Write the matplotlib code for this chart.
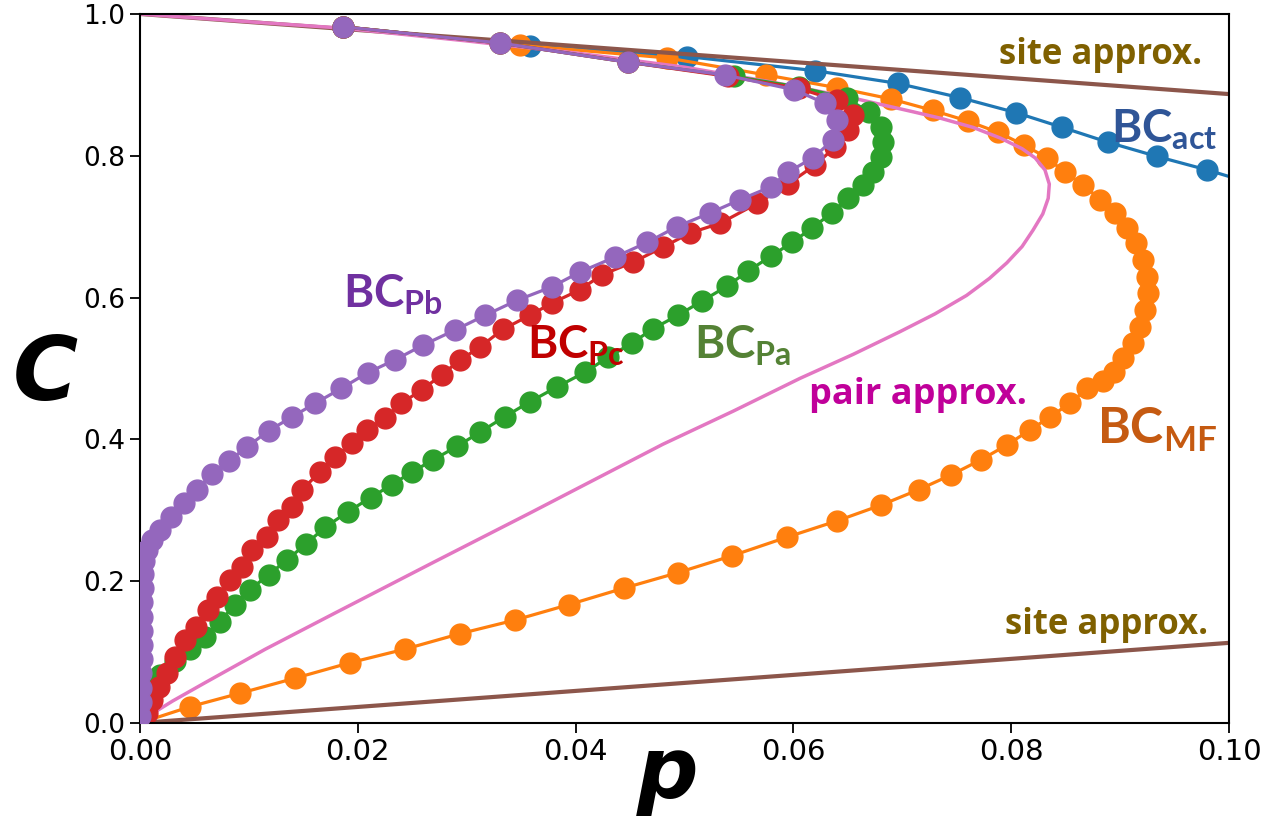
import matplotlib
matplotlib.use("Agg")
import matplotlib.pyplot as plt

# ---- data ----
p_act = [0.0186, 0.0358, 0.0502, 0.0620, 0.0696, 0.0753, 0.0804, 0.0847, 0.0889, 0.0934, 0.0980, 0.1030]
C_act = [0.982, 0.955, 0.940, 0.920, 0.902, 0.882, 0.861, 0.840, 0.819, 0.799, 0.780, 0.757]

p_mf = [0.0186, 0.0349, 0.0484, 0.0575, 0.0640, 0.0690, 0.0728, 0.0760, 0.0788, 0.0812,
        0.0833, 0.0849, 0.0866, 0.0882, 0.0895, 0.0906, 0.0915, 0.0921, 0.0925, 0.0926,
        0.0923, 0.0918, 0.0912, 0.0903, 0.0894, 0.0884, 0.0870, 0.0854, 0.0836, 0.0817,
        0.0796, 0.0772, 0.0745, 0.0715, 0.0680, 0.0640, 0.0594, 0.0544, 0.0494, 0.0444,
        0.0394, 0.0344, 0.0294, 0.0243, 0.0193, 0.0142, 0.0092, 0.0046, 0.0]
C_mf = [0.982, 0.956, 0.938, 0.914, 0.896, 0.880, 0.864, 0.849, 0.833, 0.815,
        0.797, 0.777, 0.759, 0.738, 0.719, 0.698, 0.677, 0.653, 0.629, 0.606,
        0.583, 0.559, 0.536, 0.515, 0.495, 0.483, 0.472, 0.451, 0.432, 0.413,
        0.392, 0.371, 0.350, 0.329, 0.307, 0.285, 0.262, 0.236, 0.212, 0.190,
        0.167, 0.145, 0.126, 0.104, 0.085, 0.063, 0.042, 0.023, 0.0]

p_pa = [0.0186, 0.0331, 0.0448, 0.0545, 0.0605, 0.0649, 0.0669, 0.0680, 0.0682, 0.0680,
        0.0673, 0.0664, 0.0650, 0.0635, 0.0617, 0.0599, 0.0579, 0.0558, 0.0539, 0.0516,
        0.0494, 0.0471, 0.0452, 0.0430, 0.0409, 0.0383, 0.0358, 0.0335, 0.0312, 0.0291,
        0.0269, 0.0250, 0.0231, 0.0212, 0.0191, 0.0170, 0.0152, 0.0135, 0.0118, 0.0101,
        0.0087, 0.0073, 0.0060, 0.0046, 0.0032, 0.0018, 0.0010, 0.0004, 0.0]
C_pa = [0.982, 0.959, 0.932, 0.912, 0.897, 0.881, 0.862, 0.841, 0.820, 0.798,
        0.777, 0.759, 0.740, 0.719, 0.698, 0.678, 0.658, 0.637, 0.616, 0.595,
        0.575, 0.556, 0.536, 0.516, 0.495, 0.474, 0.453, 0.432, 0.410, 0.390,
        0.371, 0.354, 0.336, 0.318, 0.298, 0.276, 0.252, 0.230, 0.209, 0.188,
        0.166, 0.143, 0.121, 0.104, 0.088, 0.068, 0.049, 0.028, 0.0]

p_pc = [0.0186, 0.0331, 0.0448, 0.0540, 0.0605, 0.0640, 0.0655, 0.0650, 0.0638, 0.0620,
        0.0595, 0.0567, 0.0533, 0.0505, 0.0480, 0.0453, 0.0424, 0.0404, 0.0378, 0.0358,
        0.0333, 0.0312, 0.0294, 0.0277, 0.0259, 0.0240, 0.0225, 0.0208, 0.0195, 0.0179,
        0.0165, 0.0149, 0.0140, 0.0127, 0.0117, 0.0103, 0.0094, 0.0083, 0.0071, 0.0062,
        0.0051, 0.0041, 0.0032, 0.0025, 0.0017, 0.0011, 0.0006, 0.0]
C_pc = [0.982, 0.959, 0.932, 0.912, 0.895, 0.878, 0.858, 0.836, 0.812, 0.787,
        0.760, 0.733, 0.705, 0.691, 0.671, 0.650, 0.632, 0.611, 0.592, 0.575,
        0.555, 0.530, 0.512, 0.491, 0.470, 0.451, 0.430, 0.413, 0.395, 0.375,
        0.354, 0.329, 0.305, 0.286, 0.262, 0.244, 0.220, 0.202, 0.178, 0.159,
        0.135, 0.117, 0.093, 0.070, 0.051, 0.032, 0.014, 0.0]

p_pb = [0.0186, 0.0331, 0.0448, 0.0537, 0.0601, 0.0629, 0.0640, 0.0636, 0.0618, 0.0595,
        0.0579, 0.0551, 0.0523, 0.0493, 0.0466, 0.0436, 0.0404, 0.0378, 0.0346, 0.0317,
        0.0289, 0.0260, 0.0234, 0.0209, 0.0185, 0.0161, 0.0140, 0.0118, 0.0098, 0.0082,
        0.0066, 0.0052, 0.0040, 0.0028, 0.0018, 0.0011, 0.0006, 0.0004, 0.0003, 0.0003,
        0.0002, 0.0002, 0.0002, 0.0002, 0.0002, 0.0001, 0.0001, 0.0001, 0.0]
C_pb = [0.982, 0.959, 0.932, 0.914, 0.893, 0.874, 0.850, 0.822, 0.797, 0.777,
        0.756, 0.738, 0.719, 0.700, 0.678, 0.657, 0.636, 0.615, 0.596, 0.575,
        0.554, 0.533, 0.512, 0.494, 0.472, 0.451, 0.432, 0.412, 0.389, 0.370,
        0.351, 0.329, 0.310, 0.291, 0.272, 0.258, 0.244, 0.228, 0.210, 0.190,
        0.170, 0.150, 0.130, 0.110, 0.090, 0.070, 0.050, 0.030, 0.010]

# pair approximation, upper branch from (0, 1) round the nose back to the origin
p_pair = [0.0, 0.0100, 0.0186, 0.0300, 0.0400, 0.0500, 0.0580, 0.0650, 0.0710, 0.0735,
          0.0765, 0.0790, 0.0810, 0.0822, 0.0831, 0.0835, 0.0834, 0.0829, 0.0820, 0.0810,
          0.0796, 0.0780, 0.0759, 0.0730, 0.0698, 0.0655, 0.0606, 0.0545, 0.0480, 0.0358,
          0.0270, 0.0179, 0.0115, 0.0060, 0.0030, 0.0010, 0.0]
C_pair = [1.0, 0.989, 0.980, 0.962, 0.945, 0.925, 0.904, 0.883, 0.862, 0.853,
          0.840, 0.825, 0.810, 0.797, 0.780, 0.760, 0.740, 0.718, 0.695, 0.672,
          0.649, 0.627, 0.603, 0.577, 0.552, 0.520, 0.486, 0.440, 0.393, 0.296,
          0.227, 0.155, 0.104, 0.057, 0.031, 0.012, 0.0]

p_site = [0.0, 0.1]
C_site_hi = [1.0, 0.887]
C_site_lo = [0.0, 0.113]

xticks = [0.0, 0.02, 0.04, 0.06, 0.08, 0.10]
yticks = [0.0, 0.2, 0.4, 0.6, 0.8, 1.0]

plt.rcParams['mathtext.fontset'] = 'custom'
plt.rcParams['mathtext.rm'] = 'Lato:bold'
plt.rcParams['mathtext.bf'] = 'Lato:bold'

fig = plt.figure(figsize=(12.81, 8.17), dpi=100)
ax = fig.add_axes([0.1093, 0.1151, 0.8501, 0.8678])

ms = 15
lw = 2.3
ax.plot(p_act, C_act, 'o-', color='#1f77b4', ms=ms, lw=lw, zorder=2.0)
ax.plot(p_mf, C_mf, 'o-', color='#ff7f0e', ms=ms, lw=lw, zorder=2.1)
ax.plot(p_site, C_site_hi, '-', color='#8c564b', lw=3, zorder=2.2)
ax.plot(p_site, C_site_lo, '-', color='#8c564b', lw=3, zorder=2.2)
ax.plot(p_pair, C_pair, '-', color='#e377c2', lw=2.5, zorder=2.3)
ax.plot(p_pa, C_pa, 'o-', color='#2ca02c', ms=ms, lw=lw, zorder=2.4)
ax.plot(p_pc, C_pc, 'o-', color='#d62728', ms=ms, lw=lw, zorder=2.5)
ax.plot(p_pb, C_pb, 'o-', color='#9467bd', ms=ms, lw=lw, zorder=2.6)

ax.set_xlim(0, 0.1)
ax.set_ylim(0, 1.0)
ax.set_xticks(xticks)
ax.set_xticklabels(['%.2f' % t for t in xticks], fontsize=21)
ax.set_yticks(yticks)
ax.set_yticklabels(['%.1f' % t for t in yticks], fontsize=19)
ax.tick_params(length=7, width=1.3)
for s in ax.spines.values():
    s.set_linewidth(1.5)

# axis titles
fig.text(45 / 1281, 1 - 375 / 817, 'C', fontsize=64, fontweight='bold', fontstyle='italic',
         ha='center', va='center')
fig.text(668 / 1281, 1 - 775 / 817, 'p', fontsize=62, fontweight='bold', fontstyle='italic',
         ha='center', va='center')

# curve labels
lab = dict(family='Lato', fontweight='bold', ha='center', va='center')
txt = dict(family='Open Sans', fontweight='bold', ha='center', va='center')
ax.text(0.0882, 0.942, 'site approx.', color='#7F6000', fontsize=25, **txt)
ax.text(0.0888, 0.138, 'site approx.', color='#7F6000', fontsize=25, **txt)
ax.text(0.0941, 0.837, r'BC$_{\mathrm{act}}$', color='#2F5597', fontsize=33, **lab)
ax.text(0.0232, 0.604, r'BC$_{\mathrm{Pb}}$', color='#7030A0', fontsize=33, **lab)
ax.text(0.0400, 0.532, r'BC$_{\mathrm{Pc}}$', color='#C00000', fontsize=33, **lab)
ax.text(0.0553, 0.532, r'BC$_{\mathrm{Pa}}$', color='#548235', fontsize=33, **lab)
ax.text(0.0714, 0.462, 'pair approx.', color='#C0009A', fontsize=26, **txt)
ax.text(0.0934, 0.413, r'BC$_{\mathrm{MF}}$', color='#C55A11', fontsize=36, **lab)

fig.savefig('out.png', dpi=100)
